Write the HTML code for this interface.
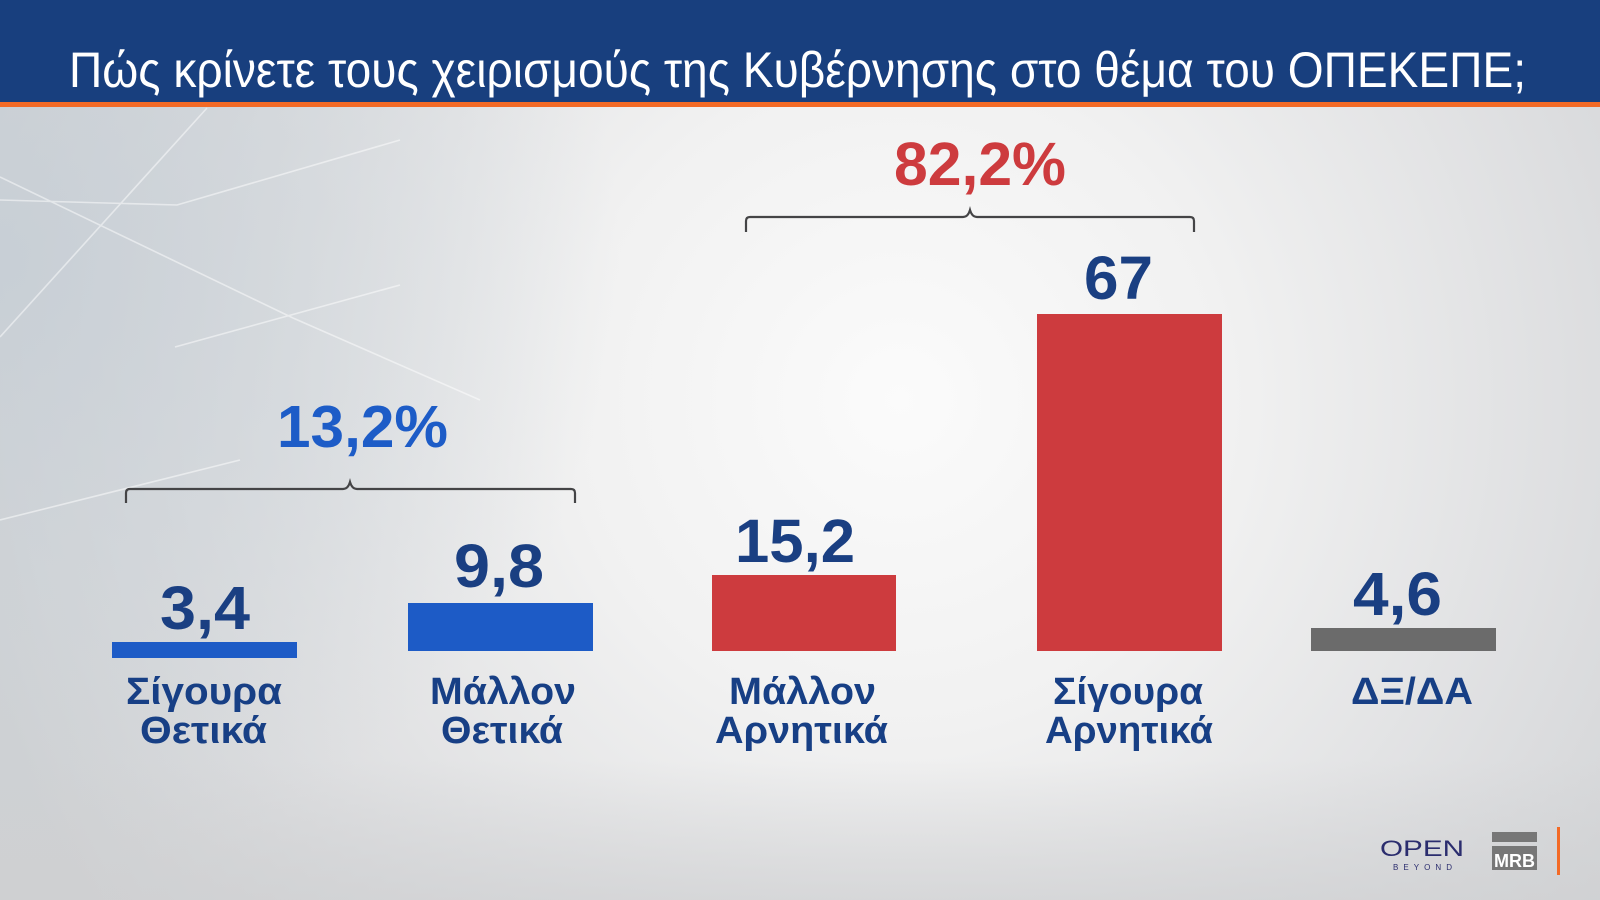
<!DOCTYPE html>
<html>
<head>
<meta charset="utf-8">
<style>
html,body{margin:0;padding:0;width:1600px;height:900px;overflow:hidden;background:#dcdddf;}
svg{display:block;}
.t{font-family:"Liberation Sans","DejaVu Sans",sans-serif;}
</style>
</head>
<body>
<svg width="1600" height="900" viewBox="0 0 1600 900" xmlns="http://www.w3.org/2000/svg">
  <defs>
    <radialGradient id="bg" cx="900" cy="400" r="950" gradientUnits="userSpaceOnUse">
      <stop offset="0" stop-color="#fbfbfb"/>
      <stop offset="0.35" stop-color="#f1f1f1"/>
      <stop offset="0.75" stop-color="#dcdddf"/>
      <stop offset="1" stop-color="#cfd1d3"/>
    </radialGradient>
    <radialGradient id="leftTint" cx="0" cy="260" r="620" gradientUnits="userSpaceOnUse">
      <stop offset="0" stop-color="#c6ced6" stop-opacity="0.85"/>
      <stop offset="0.5" stop-color="#cbd2d8" stop-opacity="0.5"/>
      <stop offset="1" stop-color="#cbd2d8" stop-opacity="0"/>
    </radialGradient>
    <linearGradient id="bottomTint" x1="0" y1="0" x2="0" y2="1">
      <stop offset="0" stop-color="#cfd0d2" stop-opacity="0"/>
      <stop offset="1" stop-color="#cfd0d2" stop-opacity="0.7"/>
    </linearGradient>
  </defs>

  <!-- background -->
  <rect x="0" y="0" width="1600" height="900" fill="url(#bg)"/>
  <rect x="0" y="100" width="700" height="800" fill="url(#leftTint)"/>
  <rect x="0" y="760" width="1600" height="140" fill="url(#bottomTint)"/>

  <!-- faint lines top-left -->
  <g stroke="#ffffff" stroke-width="1.6" fill="none" opacity="0.5">
    <line x1="207" y1="108" x2="0" y2="337"/>
    <line x1="0" y1="177" x2="293" y2="318"/>
    <polyline points="0,200 177,205 400,140"/>
    <line x1="175" y1="347" x2="400" y2="285"/>
    <line x1="293" y1="318" x2="480" y2="400"/>
    <line x1="0" y1="520" x2="240" y2="460"/>
  </g>

  <!-- header -->
  <rect x="0" y="0" width="1600" height="103" fill="#183f7e"/>
  <rect x="0" y="102" width="1600" height="5" fill="#f36a26"/>
  <text class="t" x="69" y="87" font-size="50" fill="#ffffff" textLength="1457" lengthAdjust="spacingAndGlyphs">Πώς κρίνετε τους χειρισμούς της Κυβέρνησης στο θέμα του ΟΠΕΚΕΠΕ;</text>

  <!-- braces -->
  <path d="M126,503 L126,493 Q126,489 130,489 L343,489 Q348,489 350,482 Q352,489 357,489 L571,489 Q575,489 575,493 L575,503" stroke="#444446" stroke-width="2.2" fill="none"/>
  <path d="M746,232 L746,221 Q746,217 750,217 L963,217 Q968,217 970,210 Q972,217 977,217 L1190,217 Q1194,217 1194,221 L1194,232" stroke="#444446" stroke-width="2.2" fill="none"/>

  <!-- group totals -->
  <text class="t" x="277" y="447" font-size="59" font-weight="bold" fill="#1d5cc7" textLength="171" lengthAdjust="spacingAndGlyphs">13,2%</text>
  <text class="t" x="894" y="185" font-size="61" font-weight="bold" fill="#cd3b3e" textLength="172" lengthAdjust="spacingAndGlyphs">82,2%</text>

  <!-- bars -->
  <rect x="112" y="642" width="185" height="16" fill="#1d5bc6"/>
  <rect x="408" y="603" width="185" height="48" fill="#1d5bc6"/>
  <rect x="712" y="575" width="184" height="76" fill="#cd3b3e"/>
  <rect x="1037" y="314" width="185" height="337" fill="#cd3b3e"/>
  <rect x="1311" y="628" width="185" height="23" fill="#6b6b6b"/>

  <!-- values -->
  <g class="t" font-size="61" font-weight="bold" fill="#1a3f82">
    <text x="160" y="629" textLength="90" lengthAdjust="spacingAndGlyphs">3,4</text>
    <text x="454" y="587" textLength="90" lengthAdjust="spacingAndGlyphs">9,8</text>
    <text x="735" y="562" textLength="120" lengthAdjust="spacingAndGlyphs">15,2</text>
    <text x="1084" y="299" textLength="69" lengthAdjust="spacingAndGlyphs">67</text>
    <text x="1353" y="615" textLength="89" lengthAdjust="spacingAndGlyphs">4,6</text>
  </g>

  <!-- category labels -->
  <g class="t" font-size="38" font-weight="bold" fill="#173f85">
    <text x="126" y="704" textLength="156" lengthAdjust="spacingAndGlyphs">Σίγουρα</text>
    <text x="140" y="743" textLength="127" lengthAdjust="spacingAndGlyphs">Θετικά</text>
    <text x="430" y="704" textLength="146" lengthAdjust="spacingAndGlyphs">Μάλλον</text>
    <text x="441" y="743" textLength="122" lengthAdjust="spacingAndGlyphs">Θετικά</text>
    <text x="729" y="704" textLength="147" lengthAdjust="spacingAndGlyphs">Μάλλον</text>
    <text x="715" y="743" textLength="173" lengthAdjust="spacingAndGlyphs">Αρνητικά</text>
    <text x="1053" y="704" textLength="150" lengthAdjust="spacingAndGlyphs">Σίγουρα</text>
    <text x="1045" y="743" textLength="168" lengthAdjust="spacingAndGlyphs">Αρνητικά</text>
    <text x="1351" y="704" textLength="122" lengthAdjust="spacingAndGlyphs">ΔΞ/ΔΑ</text>
  </g>

  <!-- logos -->
  <text class="t" x="1380" y="856" font-size="22" fill="#2b2d6e" textLength="84" lengthAdjust="spacingAndGlyphs">OPEN</text>
  <text class="t" x="1393" y="870" font-size="8" fill="#2b2d6e" textLength="59" lengthAdjust="spacing">BEYOND</text>
  <rect x="1492" y="832" width="45" height="10" fill="#777777"/>
  <rect x="1492" y="846" width="45" height="24" fill="#777777"/>
  <text class="t" x="1494" y="867" font-size="18" font-weight="bold" fill="#ffffff" textLength="41" lengthAdjust="spacingAndGlyphs">MRB</text>
  <rect x="1557" y="827" width="3" height="48" fill="#f36a26"/>
</svg>
</body>
</html>
